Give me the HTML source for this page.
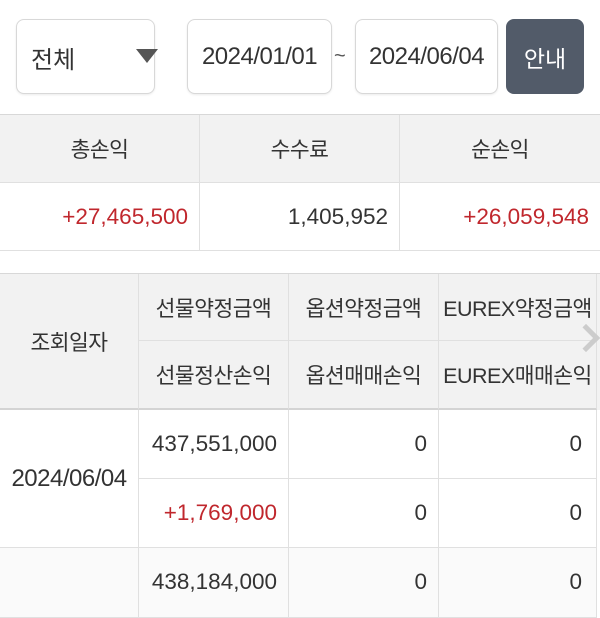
<!DOCTYPE html>
<html><head><meta charset="utf-8"><style>
*{margin:0;padding:0;box-sizing:border-box}
body{width:600px;height:600px;overflow:hidden;background:#fff;font-family:"Liberation Sans","Noto Sans CJK KR",sans-serif;color:#333;position:relative}
.a{position:absolute}
.box{border:1px solid #d8d8d8;border-radius:8px;background:#fff;box-shadow:0 1px 2px rgba(0,0,0,.08)}
.c{display:flex;align-items:center;justify-content:center}
.r{display:flex;align-items:center;justify-content:flex-end;padding-right:11px}
.red{color:#c0272d}
.cell{position:absolute;border-right:1px solid #e0e0e0;border-bottom:1px solid #e0e0e0}
.n{font-size:22.5px}
.h{font-size:21.5px;letter-spacing:-0.5px}
</style></head><body>
<div class="a box" style="left:16px;top:19px;width:139px;height:75px"></div>
<div class="a" style="left:31px;top:40px;font-size:24px">전체</div>
<div class="a" style="left:136px;top:49px;width:0;height:0;border-left:11px solid transparent;border-right:11px solid transparent;border-top:14px solid #555"></div>
<div class="a box c" style="left:187px;top:19px;width:145px;height:75px;font-size:24px;letter-spacing:-0.5px">2024/01/01</div>
<div class="a" style="left:334px;top:45px;font-size:20px;color:#555">~</div>
<div class="a box c" style="left:355px;top:19px;width:143px;height:75px;font-size:24px;letter-spacing:-0.5px">2024/06/04</div>
<div class="a c" style="left:506px;top:19px;width:78px;height:75px;border-radius:8px;background:#525b69;color:#fff;font-size:23px">안내</div>

<div class="a" style="left:0;top:114px;width:600px;height:137px;border-top:1px solid #d8d8d8"></div>
<div class="cell c h" style="left:0;top:115px;width:200px;height:68px;background:#f2f2f2">총손익</div>
<div class="cell c h" style="left:200px;top:115px;width:200px;height:68px;background:#f2f2f2">수수료</div>
<div class="cell c h" style="left:400px;top:115px;width:200px;height:68px;background:#f2f2f2;border-right:none">순손익</div>
<div class="cell r red n" style="left:0;top:183px;width:200px;height:68px">+27,465,500</div>
<div class="cell r n" style="left:200px;top:183px;width:200px;height:68px">1,405,952</div>
<div class="cell r red n" style="left:400px;top:183px;width:200px;height:68px;border-right:none">+26,059,548</div>

<div class="a" style="left:0;top:273px;width:600px;height:1px;background:#d8d8d8"></div>
<div class="cell c h" style="left:0;top:274px;width:139px;height:136px;background:#f2f2f2;border-bottom:2px solid #d4d4d4">조회일자</div>
<div class="cell c h" style="left:139px;top:274px;width:150px;height:67px;background:#f2f2f2">선물약정금액</div>
<div class="cell c h" style="left:289px;top:274px;width:150px;height:67px;background:#f2f2f2">옵션약정금액</div>
<div class="cell c h" style="left:439px;top:274px;width:158px;height:67px;background:#f2f2f2;white-space:nowrap;overflow:hidden">EUREX약정금액</div>
<div class="cell c h" style="left:139px;top:341px;width:150px;height:69px;background:#f2f2f2;border-bottom:2px solid #d4d4d4">선물정산손익</div>
<div class="cell c h" style="left:289px;top:341px;width:150px;height:69px;background:#f2f2f2;border-bottom:2px solid #d4d4d4">옵션매매손익</div>
<div class="cell c h" style="left:439px;top:341px;width:158px;height:69px;background:#f2f2f2;border-bottom:2px solid #d4d4d4;white-space:nowrap;overflow:hidden">EUREX매매손익</div>
<div class="a" style="left:597px;top:274px;width:3px;height:136px;background:#f2f2f2"></div>
<div class="a" style="left:576px;top:328px;width:20px;height:20px;border-top:5px solid #ccc;border-right:5px solid #ccc;transform:rotate(45deg)"></div>

<div class="cell c" style="left:0;top:410px;width:139px;height:138px;font-size:24px;letter-spacing:-0.5px">2024/06/04</div>
<div class="cell r n" style="left:139px;top:410px;width:150px;height:69px">437,551,000</div>
<div class="cell r n" style="left:289px;top:410px;width:150px;height:69px">0</div>
<div class="cell r n" style="left:439px;top:410px;width:158px;height:69px;padding-right:14px">0</div>
<div class="cell r red n" style="left:139px;top:479px;width:150px;height:69px">+1,769,000</div>
<div class="cell r n" style="left:289px;top:479px;width:150px;height:69px">0</div>
<div class="cell r n" style="left:439px;top:479px;width:158px;height:69px;padding-right:14px">0</div>

<div class="cell" style="left:0;top:548px;width:139px;height:70px;background:#fafafa"></div>
<div class="cell r n" style="left:139px;top:548px;width:150px;height:70px;background:#fafafa;align-items:flex-start;padding-top:21px">438,184,000</div>
<div class="cell r n" style="left:289px;top:548px;width:150px;height:70px;background:#fafafa;align-items:flex-start;padding-top:21px">0</div>
<div class="cell r n" style="left:439px;top:548px;width:158px;height:70px;background:#fafafa;align-items:flex-start;padding-top:21px;padding-right:14px">0</div>
</body></html>
